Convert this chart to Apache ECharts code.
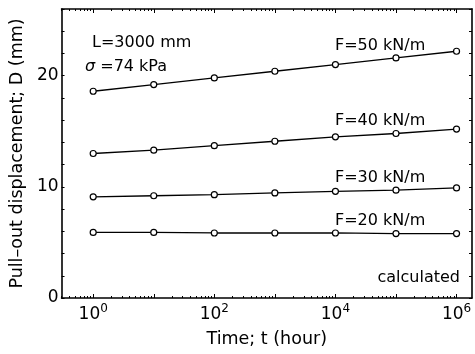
<!DOCTYPE html>
<html>
<head>
<meta charset="utf-8">
<script src="https://cdn.jsdelivr.net/npm/echarts@6/dist/echarts.min.js"></script>
<style>
  html, body { margin: 0; padding: 0; background: #fff; }
  #chart { width: 475px; height: 354px; }
</style>
</head>
<body>
<div id="chart"></div>
<script>
// Elapsed time (hours) and calculated pull-out displacement D (mm) per load level
const times = [1, 10, 100, 1000, 10000, 100000, 1000000];
const dispF50 = [18.6, 19.2, 19.8, 20.4, 21.0, 21.6, 22.2];
const dispF40 = [13.0, 13.3, 13.7, 14.1, 14.5, 14.8, 15.2];
const dispF30 = [9.1, 9.2, 9.3, 9.45, 9.6, 9.7, 9.9];
const dispF20 = [5.9, 5.9, 5.85, 5.85, 5.85, 5.8, 5.8];
const loadLabels = ['F=50 kN/m', 'F=40 kN/m', 'F=30 kN/m', 'F=20 kN/m'];

// Axis ticks
const xLabelTimes = [1, 100, 10000, 1000000];
const xMajorTimes = [1, 10, 100, 1000, 10000, 100000, 1000000];
const yLabelValues = [0, 10, 20];

const X_MIN = 0.3, X_MAX = 1.8e6;
const xMinorTimes = [];
for (let e = -1; e <= 6; e++) {
  for (let k = 2; k <= 9; k++) {
    const v = k * Math.pow(10, e);
    if (v > X_MIN && v < X_MAX) xMinorTimes.push(v);
  }
}

const FONT = 'DejaVu Sans';
const chart = echarts.init(document.getElementById('chart'), null, { renderer: 'canvas' });

const frameLine = { show: true, lineStyle: { color: '#000', width: 1.6 } };

function logAxis(position, ticks, len, withLabels) {
  const axis = {
    type: 'log',
    logBase: 10,
    position: position,
    min: X_MIN,
    max: X_MAX,
    gridIndex: 0,
    axisLine: withLabels !== null ? frameLine : { show: false },
    axisTick: { show: true, inside: true, length: len, customValues: ticks,
                lineStyle: { color: '#000', width: 1 } },
    axisLabel: { show: false },
    splitLine: { show: false },
    minorTick: { show: false }
  };
  if (withLabels) {
    axis.axisLabel = {
      show: true,
      customValues: xLabelTimes,
      margin: 5,
      formatter: function (v) {
        const e = Math.round(Math.log10(v));
        return '{b|10}{s|' + e + '}';
      },
      rich: {
        b: { fontFamily: FONT, fontSize: 17, color: '#000', lineHeight: 20, verticalAlign: 'bottom' },
        s: { fontFamily: FONT, fontSize: 12, color: '#000', lineHeight: 12, verticalAlign: 'top' }
      }
    };
    axis.name = 'Time; t (hour)';
    axis.nameLocation = 'middle';
    axis.nameGap = 32;
    axis.nameTextStyle = { fontFamily: FONT, fontSize: 17.5, color: '#000' };
  }
  return axis;
}

function valueAxis(position, withLabels) {
  const axis = {
    type: 'value',
    position: position,
    min: 0,
    max: 26,
    interval: 2,
    axisLine: frameLine,
    axisTick: { show: true, inside: true, length: 3, lineStyle: { color: '#000', width: 1 } },
    axisLabel: { show: false },
    splitLine: { show: false }
  };
  if (withLabels) {
    axis.axisLabel = {
      show: true,
      margin: 3,
      fontFamily: FONT,
      fontSize: 17,
      color: '#000',
      formatter: function (v) { return yLabelValues.indexOf(v) >= 0 ? String(v) : ''; }
    };
    axis.name = 'Pull\u2013out displacement; D (mm)';
    axis.nameLocation = 'middle';
    axis.nameGap = 28;
    axis.nameTextStyle = { fontFamily: FONT, fontSize: 17.5, color: '#000' };
  }
  return axis;
}

function lineSeries(name, values) {
  return {
    name: name,
    type: 'line',
    xAxisIndex: 0,
    yAxisIndex: 0,
    data: times.map(function (t, i) { return [t, values[i]]; }),
    symbol: 'circle',
    symbolSize: 6,
    showAllSymbol: true,
    lineStyle: { color: '#000', width: 1.3 },
    itemStyle: { color: '#fff', borderColor: '#000', borderWidth: 1.2 },
    emphasis: { disabled: true },
    animation: false,
    z: 3
  };
}

function note(text, x, y, align, rich) {
  return {
    type: 'text',
    x: x, y: y,
    silent: true,
    style: {
      text: text,
      fontFamily: FONT,
      fontSize: 16,
      fill: '#000',
      align: align || 'left',
      verticalAlign: 'middle',
      rich: rich
    }
  };
}

chart.setOption({
  backgroundColor: '#fff',
  animation: false,
  grid: { left: 60, right: 3, top: 9, bottom: 56, containLabel: false },
  xAxis: [
    logAxis('bottom', xMajorTimes, 4, true),
    logAxis('bottom', xMinorTimes, 2, null),
    logAxis('top', xMajorTimes, 4, false),
    logAxis('top', xMinorTimes, 2, null)
  ],
  yAxis: [
    valueAxis('left', true),
    valueAxis('right', false)
  ],
  series: [
    lineSeries(loadLabels[0], dispF50),
    lineSeries(loadLabels[1], dispF40),
    lineSeries(loadLabels[2], dispF30),
    lineSeries(loadLabels[3], dispF20)
  ],
  graphic: [
    note('L=3000 mm', 92, 43),
    note('{i|\u03c3} =74 kPa', 85, 67, 'left', { i: { fontFamily: FONT, fontSize: 16, fontStyle: 'italic', fill: '#000' } }),
    note(loadLabels[0], 335, 46),
    note(loadLabels[1], 335, 121),
    note(loadLabels[2], 335, 178),
    note(loadLabels[3], 335, 221),
    note('calculated', 460, 278, 'right')
  ]
});
</script>
</body>
</html>
